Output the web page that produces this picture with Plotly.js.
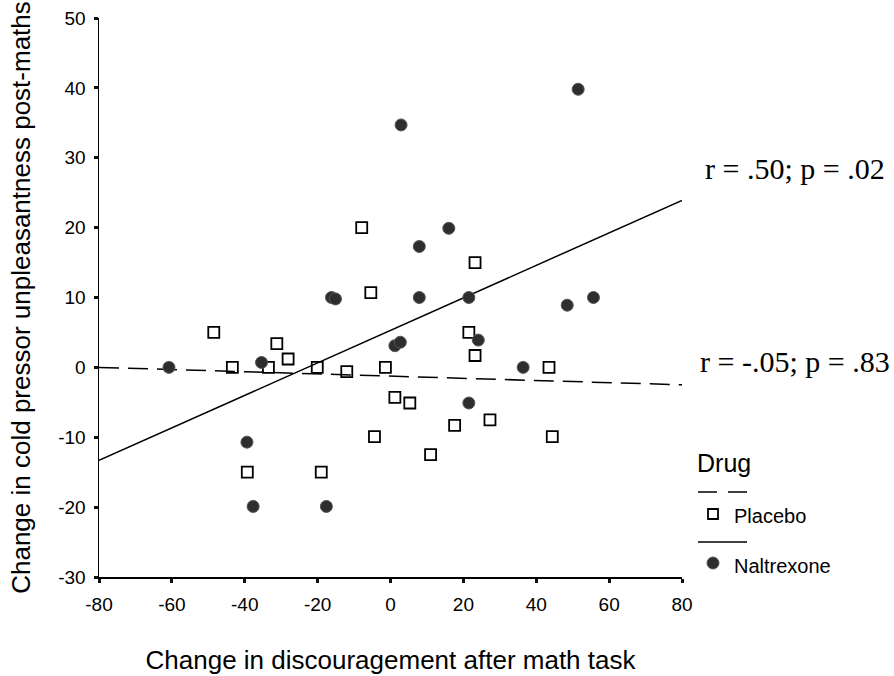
<!DOCTYPE html>
<html>
<head>
<meta charset="utf-8">
<script src="https://cdn.plot.ly/plotly-3.0.1.min.js"></script>
<style>html,body{margin:0;padding:0;background:#fff}#chart{width:894px;height:676px}</style>
</head>
<body>
<div id="chart"></div>
<script>
// ---- data ----
const placeboX = [-48.5, -31.2, -28.1, -43.4, -33.5, -20.1, -12.0, -1.4, -4.4, -39.3, -19.0, -7.9, -5.4, 23.2, 21.5, 23.2, 43.5, 1.2, 5.3, 27.3, 17.6, 44.4, 11.0];
const placeboY = [5.0, 3.4, 1.2, 0, 0, 0, -0.6, 0, -9.9, -15.0, -15.0, 20.0, 10.7, 15.0, 5.0, 1.7, 0, -4.3, -5.1, -7.5, -8.3, -9.9, -12.5];
const naltrexoneX = [-60.8, -35.4, -39.4, -37.7, -17.6, -16.2, -15.1, 2.9, 51.5, 16.0, 7.9, 7.9, 21.5, 48.5, 55.7, 24.1, 1.2, 2.7, 36.4, 21.5];
const naltrexoneY = [0, 0.7, -10.7, -19.9, -19.9, 10.0, 9.8, 34.7, 39.8, 19.9, 17.3, 10.0, 10.0, 8.9, 10.0, 3.9, 3.1, 3.6, 0, -5.1];
const groups = ["Placebo", "Naltrexone"];
const fitIntercept = [-1.25, 5.3];
const fitSlope = [-0.0156, 0.2325];
const statLabels = ["r = -.05; p = .83", "r = .50; p = .02"];
const xRange = [-80, 80];
const yRange = [-30, 50];
const xTicks = [-80, -60, -40, -20, 0, 20, 40, 60, 80];
const yTicks = [-30, -20, -10, 0, 10, 20, 30, 40, 50];

// ---- geometry helpers (pixel -> paper) ----
const W = 894, H = 676, L = 99, R = 212, T = 18, B = 99;
const pw = W - L - R, ph = H - T - B;
const px2paperX = p => (p - L) / pw;
const px2paperY = p => (H - B - p) / ph;

const fitLine = i => ({
  x: xRange.slice(),
  y: xRange.map(x => fitIntercept[i] + fitSlope[i] * x)
});

const filledColor = '#2e2e2e';
const openMarker = {symbol: 'square-open', size: 11, color: '#000', line: {width: 1.8, color: '#000'}};
const filledMarker = {symbol: 'circle', size: 12, color: filledColor, line: {width: 1, color: '#555'}};

const traces = [
  Object.assign({type: 'scatter', mode: 'lines', line: {color: '#000', width: 1.5, dash: '20px,9px'}, showlegend: false, hoverinfo: 'skip'}, fitLine(0)),
  Object.assign({type: 'scatter', mode: 'lines', line: {color: '#000', width: 1.5}, showlegend: false, hoverinfo: 'skip'}, fitLine(1)),
  {type: 'scatter', mode: 'markers', name: groups[0], x: placeboX, y: placeboY, marker: openMarker, showlegend: false},
  {type: 'scatter', mode: 'markers', name: groups[1], x: naltrexoneX, y: naltrexoneY, marker: filledMarker, showlegend: false}
];

const sans = 'Arial, "Liberation Sans", Helvetica, sans-serif';
const serif = '"Times New Roman", "Liberation Serif", serif';

function boxShape(type, cx, cy, half, style) {
  return Object.assign({type: type, xref: 'paper', yref: 'paper',
    x0: px2paperX(cx - half), x1: px2paperX(cx + half),
    y0: px2paperY(cy + half), y1: px2paperY(cy - half)}, style);
}

const layout = {
  width: W, height: H,
  margin: {l: L, r: R, t: T, b: B, pad: 0},
  paper_bgcolor: '#fff', plot_bgcolor: '#fff',
  showlegend: false,
  font: {family: sans, color: '#000'},
  xaxis: {
    range: xRange, tickvals: xTicks, ticktext: xTicks.map(String),
    showgrid: false, zeroline: false, showline: true, linecolor: '#000', linewidth: 1.5,
    ticks: 'outside', ticklen: 4, tickwidth: 3, tickcolor: '#111',
    ticklabelstandoff: 6,
    tickfont: {family: sans, size: 19, color: '#000'},
    title: {text: 'Change in discouragement after math task', font: {family: sans, size: 26, color: '#000'}, standoff: 36}
  },
  yaxis: {
    range: yRange, tickvals: yTicks, ticktext: yTicks.map(String),
    showgrid: false, zeroline: false, showline: true, linecolor: '#000', linewidth: 1.5,
    ticks: 'outside', ticklen: 4, tickwidth: 3, tickcolor: '#111',
    ticklabelstandoff: 4,
    tickfont: {family: sans, size: 19, color: '#000'},
    title: {text: 'Change in cold pressor unpleasantness post-maths', font: {family: sans, size: 26, color: '#000'}, standoff: 20}
  },
  annotations: [
    {text: statLabels[1], xref: 'paper', yref: 'paper', x: px2paperX(703), y: px2paperY(168), xanchor: 'left', yanchor: 'middle', showarrow: false, font: {family: serif, size: 30, color: '#000'}},
    {text: statLabels[0], xref: 'paper', yref: 'paper', x: px2paperX(698), y: px2paperY(361), xanchor: 'left', yanchor: 'middle', showarrow: false, font: {family: serif, size: 30, color: '#000'}},
    {text: 'Drug', xref: 'paper', yref: 'paper', x: px2paperX(695), y: px2paperY(463), xanchor: 'left', yanchor: 'middle', showarrow: false, font: {family: sans, size: 25, color: '#000'}},
    {text: groups[0], xref: 'paper', yref: 'paper', x: px2paperX(732), y: px2paperY(516), xanchor: 'left', yanchor: 'middle', showarrow: false, font: {family: sans, size: 20, color: '#000'}},
    {text: groups[1], xref: 'paper', yref: 'paper', x: px2paperX(732), y: px2paperY(566), xanchor: 'left', yanchor: 'middle', showarrow: false, font: {family: sans, size: 20, color: '#000'}}
  ],
  shapes: [
    {type: 'line', xref: 'paper', yref: 'paper', x0: px2paperX(698), x1: px2paperX(747), y0: px2paperY(492), y1: px2paperY(492), line: {color: '#000', width: 1.5, dash: '19px,11px'}},
    {type: 'line', xref: 'paper', yref: 'paper', x0: px2paperX(698), x1: px2paperX(747), y0: px2paperY(542), y1: px2paperY(542), line: {color: '#000', width: 1.5}},
    boxShape('rect', 713, 514, 5, {line: {color: '#000', width: 1.8}, fillcolor: 'rgba(0,0,0,0)'}),
    boxShape('circle', 713, 563, 6, {line: {color: '#555', width: 1}, fillcolor: filledColor})
  ]
};

Plotly.newPlot('chart', traces, layout, {displayModeBar: false, staticPlot: true});
</script>
</body>
</html>
